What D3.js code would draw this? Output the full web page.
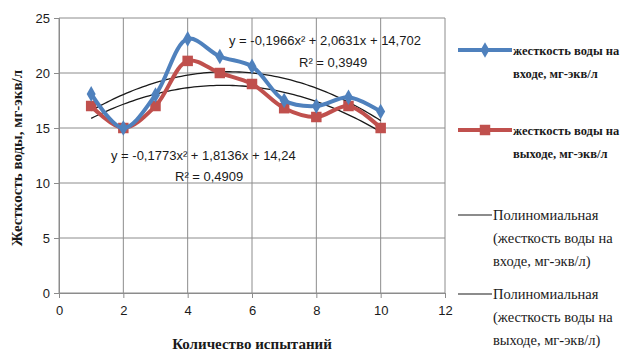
<!DOCTYPE html>
<html><head><meta charset="utf-8">
<script src="https://cdn.jsdelivr.net/npm/d3@7"></script>
<style>body{margin:0;background:#fff}
.serif{font-family:"Liberation Serif","DejaVu Serif","Times New Roman",serif}
.sans{font-family:"Liberation Sans","Open Sans",Arial,sans-serif}
</style>
</head><body>
<svg id="c" width="629" height="353"></svg>
<script>
const xs = [1,2,3,4,5,6,7,8,9,10];
const inputVals = [18.1,15,18,23.1,21.5,20.6,17.5,17,17.8,16.5];
const outputVals = [17,15,17,21.1,20,19,16.8,16,17,15];
const trendIn = [-0.1966, 2.0631, 14.702];
const trendOut = [-0.1773, 1.8136, 14.24];
const xTicks = [0,2,4,6,8,10,12];
const yTicks = [0,5,10,15,20,25];
const eqIn = ["y = -0,1966x² + 2,0631x + 14,702", "R² = 0,3949"];
const eqOut = ["y = -0,1773x² + 1,8136x + 14,24", "R² = 0,4909"];
const legendLabels = [
  ["жесткость воды на","входе, мг-экв/л"],
  ["жесткость воды на","выходе, мг-экв/л"],
  ["Полиномиальная","(жесткость воды на","входе, мг-экв/л)"],
  ["Полиномиальная","(жесткость воды на","выходе, мг-экв/л)"]
];
const yTitle = "Жесткость воды, мг-экв/л";
const xTitle = "Количество испытаний";

const svg = d3.select("#c");
const x = d3.scaleLinear().domain([0,12]).range([59,445]);
const y = d3.scaleLinear().domain([0,25]).range([293,18]);
const blue = "#4F81BD", red = "#C0504D";

// grid
svg.append("g").selectAll("line").data(yTicks).join("line")
  .attr("x1",x(0)).attr("x2",x(12)).attr("y1",d=>y(d)).attr("y2",d=>y(d))
  .attr("stroke","#8c8c8c").attr("stroke-width",1);
svg.append("g").selectAll("line").data(xTicks).join("line")
  .attr("x1",d=>x(d)).attr("x2",d=>x(d)).attr("y1",y(0)).attr("y2",y(25))
  .attr("stroke","#8c8c8c").attr("stroke-width",1);

const xAxis = svg.append("g").attr("transform",`translate(0,${y(0)})`)
  .call(d3.axisBottom(x).tickValues(xTicks).tickSize(5).tickPadding(8));
const yAxis = svg.append("g").attr("transform",`translate(${x(0)},0)`)
  .call(d3.axisLeft(y).tickValues(yTicks).tickSize(5).tickPadding(4));
[xAxis,yAxis].forEach(a=>{
  a.attr("font-family",null).attr("font-size",null);
  a.select(".domain").attr("stroke","#8c8c8c");
  a.selectAll(".tick line").attr("stroke","#8c8c8c");
  a.selectAll("text").attr("class","sans").style("font-size","13px").attr("fill","#1a1a1a");
});

// trend lines
const fine = d3.range(1,10.001,0.1);
const poly = c => v => c[0]*v*v + c[1]*v + c[2];
const tline = d3.line().x(d=>x(d[0])).y(d=>y(d[1]));
[trendIn,trendOut].forEach(c=>{
  const f = poly(c);
  svg.append("path").datum(fine.map(v=>[v,f(v)])).attr("d",tline)
    .attr("fill","none").attr("stroke","#1a1a1a").attr("stroke-width",1.3);
});

// data lines
const line = d3.line().curve(d3.curveCatmullRom.alpha(0.5)).x(d=>x(d[0])).y(d=>y(d[1]));
function series(vals,color,shape){
  const pts = xs.map((v,i)=>[v,vals[i]]);
  svg.append("path").datum(pts).attr("d",line).attr("fill","none")
    .attr("stroke",color).attr("stroke-width",4).attr("stroke-linejoin","round");
  svg.append("g").selectAll("path").data(pts).join("path")
    .attr("transform",d=>`translate(${x(d[0])},${y(d[1])})`)
    .attr("d",d3.symbol().type(shape).size(shape===d3.symbolSquare?110:70))
    .attr("fill",color);
}
series(outputVals,red,d3.symbolSquare);
series(inputVals,blue,d3.symbolDiamond);

// equations
function eq(lines,x0,y0,x1,y1){
  svg.append("text").attr("x",x0).attr("y",y0).text(lines[0])
    .attr("class","sans").style("font-size","13px").attr("fill","#1a1a1a");
  svg.append("text").attr("x",x1).attr("y",y1).text(lines[1])
    .attr("class","sans").style("font-size","13px").attr("fill","#1a1a1a");
}
eq(eqIn,229,45,299,67);
eq(eqOut,111,160,175,181);

// axis titles
svg.append("text").attr("transform",`translate(22,158) rotate(-90)`)
  .attr("text-anchor","middle").attr("class","serif").style("font-weight","bold")
  .style("font-size","15px").attr("fill","#1a1a1a").text(yTitle);
svg.append("text").attr("x",252).attr("y",349).attr("text-anchor","middle")
  .attr("class","serif").style("font-weight","bold").style("font-size","15px")
  .attr("fill","#1a1a1a").text(xTitle);

// legend
const lg = svg.append("g");
const legY = [50,130,215,294];
legendLabels.forEach((lab,i)=>{
  const yy = legY[i];
  if(i<2){
    const col = i===0?blue:red;
    lg.append("line").attr("x1",458).attr("x2",512).attr("y1",yy).attr("y2",yy)
      .attr("stroke",col).attr("stroke-width",4);
    lg.append("path").attr("transform",`translate(485,${yy})`)
      .attr("d",d3.symbol().type(i===0?d3.symbolDiamond:d3.symbolSquare).size(i===0?70:110))
      .attr("fill",col);
  } else {
    lg.append("line").attr("x1",458).attr("x2",492).attr("y1",yy).attr("y2",yy)
      .attr("stroke","#1a1a1a").attr("stroke-width",1.2);
  }
  lab.forEach((t,j)=>{
    lg.append("text").attr("x",i<2?513:493).attr("y",yy+5+j*23).text(t)
      .attr("class","serif").style("font-size",i<2?"12.5px":"14.5px")
      .style("font-weight",i<2?"bold":"normal").attr("fill","#1a1a1a");
  });
});
</script>
</body></html>
